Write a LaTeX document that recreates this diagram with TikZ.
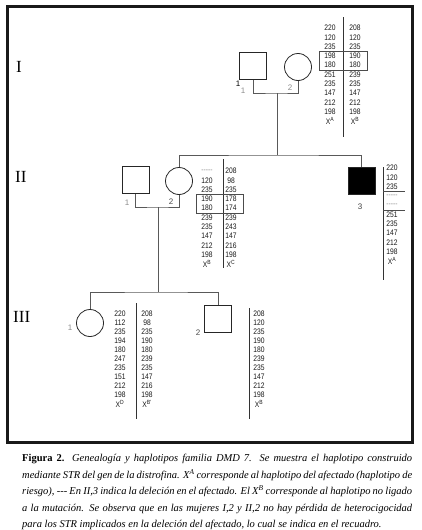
\documentclass[tikz,border=0pt]{standalone}
\usepackage{fontspec}
\setmainfont{Liberation Serif}
\newfontfamily\numfont[FakeStretch=0.84]{Liberation Sans}
\newfontfamily\labfont{Liberation Sans}
\tikzset{
 male/.style={draw=black!85, line width=0.8pt, minimum size=27pt, inner sep=0pt, rectangle},
 female/.style={draw=black!85, line width=0.8pt, minimum size=27pt, inner sep=0pt, circle},
 affected/.style={male, fill=black},
 pedline/.style={draw=black!65, line width=0.7pt},
 hapline/.style={draw=black!80, line width=0.8pt},
 hapbox/.style={draw=black!70, line width=0.7pt},
 allele/.style={font=\numfont\fontsize{8}{8}\selectfont, text=black!90, inner sep=0pt, anchor=center},
 idlab/.style={font=\labfont\fontsize{8}{9}\selectfont, text=black!45, inner sep=0pt},
 genlab/.style={font=\fontsize{17}{18}\selectfont, inner sep=0pt, anchor=west},
 frame/.style={draw=black!90, line width=3pt},
}
\newcommand{\dl}{\textcolor{black!45}{-{}-{}-{}-{}-}}
\begin{document}
\begin{tikzpicture}[x=1pt,y=-1pt]
\useasboundingbox (0,0) rectangle (421,530);
\draw[frame] (7,6) rectangle (412,442);

% generation labels
\node[genlab] (gI) at (16,67) {I};
\node[genlab] (gII) at (15,177) {II};
\node[genlab] (gIII) at (13,317) {III};

% persons
\node[male] (I1) at (253,66) {};
\node[female] (I2) at (298,67) {};
\node[male] (II1) at (135.5,180) {};
\node[female] (II2) at (179,181) {};
\node[affected] (II3) at (361.5,181) {};
\node[female] (III1) at (90,323) {};
\node[male] (III2) at (218,319) {};

% id labels
\node[idlab, text=black] (lI1a) at (238,84) {1};
\node[idlab] (lI1b) at (243,91) {1};
\node[idlab] (lI2) at (290,88) {2};
\node[idlab] (lII1) at (127,203) {1};
\node[idlab, text=black!70] (lII2) at (171,202) {2};
\node[idlab, text=black!75] (lII3) at (360,207) {3};
\node[idlab] (lIII1) at (70,328) {1};
\node[idlab, text=black!70] (lIII2) at (198,333) {2};

% connectors
\coordinate (mI) at (277,93);
\coordinate (sII) at (277,155);
\coordinate (mII) at (158,207);
\coordinate (sIII) at (158,292);
\draw[pedline] (I1.south) |- (mI) -| (I2.south);
\draw[pedline] (mI) -- (sII);
\draw[pedline] (II2.north) |- (sII) -| (II3.north);
\draw[pedline] (II1.south) |- (mII) -| (II2.south);
\draw[pedline] (mII) -- (sIII);
\draw[pedline] (III1.north) |- (sIII) -| (III2.north);

% haplotypes I,2
\coordinate (hIt) at (343,17); \coordinate (hIb) at (343,137);
\draw[hapline] (hIt) -- (hIb);
\foreach \v [count=\i from 0] in {220,120,235,198,180,251,235,147,212,198,{X\textsuperscript{A}}}
  \node[allele] (Ia\i) at (330,{28+9.3*\i}) {\v};
\foreach \v [count=\i from 0] in {208,120,235,190,180,239,235,147,212,198,{X\textsuperscript{B}}}
  \node[allele] (Ib\i) at (355,{28+9.3*\i}) {\v};
\draw[hapbox] (319,51) rectangle (367,70);

% haplotypes II,2
\draw[hapline] (223,159) -- (223,268);
\foreach \v [count=\i from 0] in {{\dl},120,235,190,180,239,235,147,212,198,{X\textsuperscript{B}}}
  \node[allele] (IIa\i) at (207,{171+9.3*\i}) {\v};
\foreach \v [count=\i from 0] in {208,98,235,178,174,239,243,147,216,198,{X\textsuperscript{C}}}
  \node[allele] (IIb\i) at (231,{171+9.3*\i}) {\v};
\draw[hapbox] (196,194) rectangle (243,213);

% haplotypes II,3
\draw[hapline] (383,167) -- (383,280);
\foreach \v [count=\i from 0] in {220,120,235,{\dl},{\dl},251,235,147,212,198,{X\textsuperscript{A}}}
  \node[allele] (IIc\i) at (392,{168+9.3*\i}) {\v};
\draw[hapbox] (383,191.5) -- (405,191.5);
\draw[hapbox] (383,210) -- (405,210);

% haplotypes III,1
\draw[hapline] (136,303) -- (136,419);
\foreach \v [count=\i from 0] in {220,112,235,194,180,247,235,151,212,198,{X\textsuperscript{D}}}
  \node[allele] (IIIa\i) at (120,{314+9*\i}) {\v};
\foreach \v [count=\i from 0] in {208,98,235,190,180,239,235,147,216,198,{X\textsuperscript{B'}}}
  \node[allele] (IIIb\i) at (147,{314+9*\i}) {\v};

% haplotypes III,2
\draw[hapline] (249,308) -- (249,419);
\foreach \v [count=\i from 0] in {208,120,235,190,180,239,235,147,212,198,{X\textsuperscript{B}}}
  \node[allele] (IIId\i) at (259,{314+9*\i}) {\v};

% caption
\node[anchor=north west, inner sep=0pt, align=left, font=\fontsize{10.5}{16.6}\selectfont] (cap) at (22,454) {%
\makebox[390pt][s]{\textbf{Figura 2.} \textit{Genealogía y haplotipos familia DMD 7. Se muestra el haplotipo construido}}\\
\makebox[390pt][s]{\textit{mediante STR del gen de la distrofina. X\textsuperscript{A} corresponde al haplotipo del afectado (haplotipo de}}\\
\makebox[390pt][s]{\textit{riesgo), -{}-{}- En II,3 indica la deleción en el afectado. El X\textsuperscript{B} corresponde al haplotipo no ligado}}\\
\makebox[390pt][s]{\textit{a la mutación. Se observa que en las mujeres I,2 y II,2 no hay pérdida de heterocigocidad}}\\
\textit{para los STR implicados en la deleción del afectado, lo cual se indica en el recuadro.}};
\end{tikzpicture}
\end{document}
